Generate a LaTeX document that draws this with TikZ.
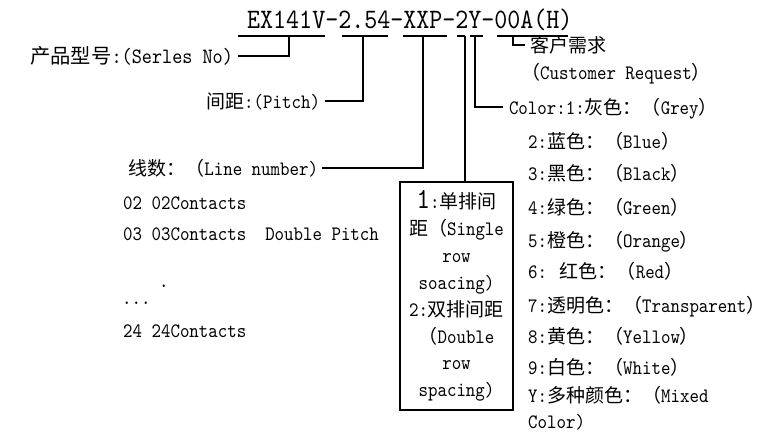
\documentclass[tikz,border=0pt]{standalone}
\usepackage{fontspec}
\newfontfamily\lat[Extension=.otf,FakeStretch=0.88,Scale=1.079]{lmmono10-regular}
\newfontfamily\cjk{Noto Sans CJK SC}
\begin{document}
\begin{tikzpicture}[x=1pt,y=-1pt]
\tikzset{
  ln/.style={line width=1.6pt},
  lab/.style={inner sep=0pt, text height=16.5pt, text depth=2.5pt, font=\fontsize{19}{26.9}\selectfont\lat},
  biglab/.style={inner sep=0pt, text height=17.5pt, text depth=2.7pt, font=\fontsize{20.3}{26.9}\selectfont\lat},
  boxstyle/.style={draw, ln, inner sep=0pt, minimum width=113pt, minimum height=228pt, align=center, font=\fontsize{19}{26.9}\selectfont\lat}
}
\useasboundingbox (0,0) rectangle (773,432);
% title
\node[inner sep=0pt, anchor=base west, font=\fontsize{26.1}{30}\selectfont\lat] (title) at (247,28) {EX141V-2.54-XXP-2Y-00A(H)};
% underline bars
\coordinate (u1l) at (238,36); \coordinate (u1r) at (325,36); \coordinate (b1) at (289,36);
\coordinate (u2l) at (342,36); \coordinate (u2r) at (388,36); \coordinate (b2) at (363,36);
\coordinate (u3l) at (403,36); \coordinate (u3r) at (447,36); \coordinate (b3) at (423,36);
\coordinate (u4al) at (457,36); \coordinate (b4a) at (465,36);
\coordinate (b4b) at (475,36); \coordinate (u4br) at (483,36); \coordinate (u4bl) at (470,36);
\coordinate (u5l) at (497,36); \coordinate (u5r) at (568,36); \coordinate (b5) at (513,36);
\draw[ln] (u1l) -- (u1r);
\draw[ln] (u2l) -- (u2r);
\draw[ln] (u3l) -- (u3r);
\draw[ln] (u4al) -- (b4a);
\draw[ln] (u4bl) -- (u4br);
\draw[ln] (u5l) -- (u5r);
% labels
\node[biglab, anchor=east, outer xsep=5pt] (lbl1) at (238,56) {{\cjk 产品型号}:(Serles No)};
\node[lab, anchor=east, outer xsep=5pt] (lbl2) at (325,101) {{\cjk 间距}:(Pitch)};
\node[lab, anchor=east, outer xsep=4pt] (lbl3) at (322,168) {{\cjk 线数：（}Line number)};
\node[lab, anchor=west, outer xsep=6pt] (lblc) at (503,107) {Color:1:{\cjk 灰色：（}Grey{\cjk ）}};
\node[lab, anchor=west, outer xsep=5pt] (lblcu) at (525,45) {{\cjk 客户需求}};
\node[lab, anchor=west] (lblcu2) at (521,72) {{\cjk （}Customer Request{\cjk ）}};
% colour list
\node[lab, anchor=west] (c2) at (528,141) {2:{\cjk 蓝色：（}Blue{\cjk ）}};
\node[lab, anchor=west] (c3) at (528,173) {3:{\cjk 黑色：（}Black{\cjk ）}};
\node[lab, anchor=west] (c4) at (528,207) {4:{\cjk 绿色：（}Green{\cjk ）}};
\node[lab, anchor=west] (c5) at (528,240) {5:{\cjk 橙色：（}Orange{\cjk ）}};
\node[lab, anchor=west] (c6) at (528,271) {6: {\cjk 红色：（}Red{\cjk ）}};
\node[lab, anchor=west] (c7) at (528,305) {7:{\cjk 透明色：（}Transparent{\cjk ）}};
\node[lab, anchor=west] (c8) at (528,336) {8:{\cjk 黄色：（}Yellow{\cjk ）}};
\node[lab, anchor=west] (c9) at (528,367) {9:{\cjk 白色：（}White{\cjk ）}};
\node[lab, anchor=west] (cy) at (528,395) {Y:{\cjk 多种颜色：（}Mixed};
\node[lab, anchor=west] (cy2) at (528,421) {Color)};
% contacts list
\node[lab, anchor=west] (n02) at (123,202) {02 02Contacts};
\node[lab, anchor=west] (n03) at (123,233) {03 03Contacts\ \ Double Pitch};
\node[lab, anchor=west] (dot1) at (159,280) {.};
\node[lab, anchor=west] (dots) at (122,297) {...};
\node[lab, anchor=west] (n24) at (123,330) {24 24Contacts};
% box
\node[boxstyle] (box) at (456.5,296) {{\fontsize{27}{26.9}\selectfont 1}:{\cjk 单排间}\\{\cjk 距（}Single\\row\\soacing)\\2:{\cjk 双排间距}\\{\cjk （}Double\\row\\spacing)};
% connectors
\draw[ln] (b1) |- (lbl1.east);
\draw[ln] (b2) |- (lbl2.east);
\draw[ln] (b3) |- (lbl3.east);
\draw[ln] (b4a) -- (b4a |- box.north);
\draw[ln] (b4b) |- (lblc.west);
\draw[ln] (b5) |- (lblcu.west);
\end{tikzpicture}
\end{document}
